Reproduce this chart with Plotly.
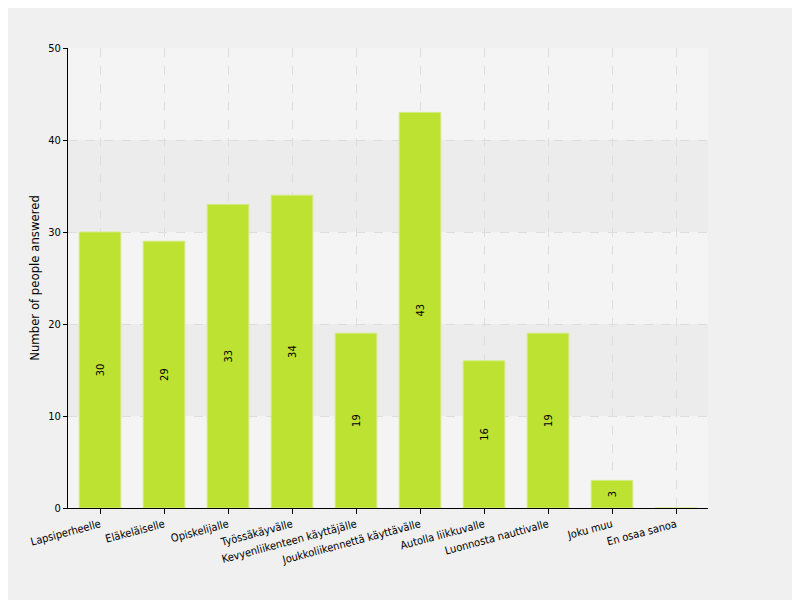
import plotly.graph_objects as go

categories = ["Lapsiperheelle", "Eläkeläiselle", "Opiskelijalle", "Työssäkäyvälle",
              "Kevyenliikenteen käyttäjälle", "Joukkoliikennettä käyttävälle",
              "Autolla liikkuvalle", "Luonnosta nauttivalle", "Joku muu", "En osaa sanoa"]
answers = [30, 29, 33, 34, 19, 43, 16, 19, 3, 0]
band_edges = [10, 20, 30, 40]

font = "DejaVu Sans Condensed, Liberation Sans Narrow, sans-serif"

bar = go.Bar(
    x=categories, y=answers, text=[str(v) for v in answers],
    textposition="inside", insidetextanchor="middle", textangle=-90,
    textfont=dict(family=font, size=11, color="#000000"),
    marker=dict(color="#bde232", line=dict(color="#d4ea80", width=1)),
    width=0.65, cliponaxis=False,
)

fig = go.Figure(data=[bar])

# alternating bands
for lo, hi in zip(band_edges[0::2], band_edges[1::2]):
    fig.add_shape(type="rect", xref="paper", yref="y", x0=0, x1=1, y0=lo, y1=hi,
                  fillcolor="#ececec", line_width=0, layer="below")

fig.update_layout(
    width=800, height=600,
    paper_bgcolor="#f0f0f0", plot_bgcolor="#f4f4f4",
    margin=dict(l=60, r=100, t=40, b=100),
    font=dict(family=font, size=11, color="#000000"),
    showlegend=False, bargap=0.35,
    xaxis=dict(tickangle=-15, showgrid=True, gridcolor="#dddddd", griddash="dash",
               ticks="outside", ticklen=5, tickcolor="#000", showline=True,
               linecolor="#000", linewidth=1),
    yaxis=dict(range=[0, 50], dtick=10, showgrid=True, gridcolor="#dddddd", griddash="dash",
               ticks="outside", ticklen=4, tickcolor="#000", showline=True,
               linecolor="#000", linewidth=1, zeroline=False,
               title=dict(text="Number of people answered", standoff=5)),
)

fig.write_html("out.html")
